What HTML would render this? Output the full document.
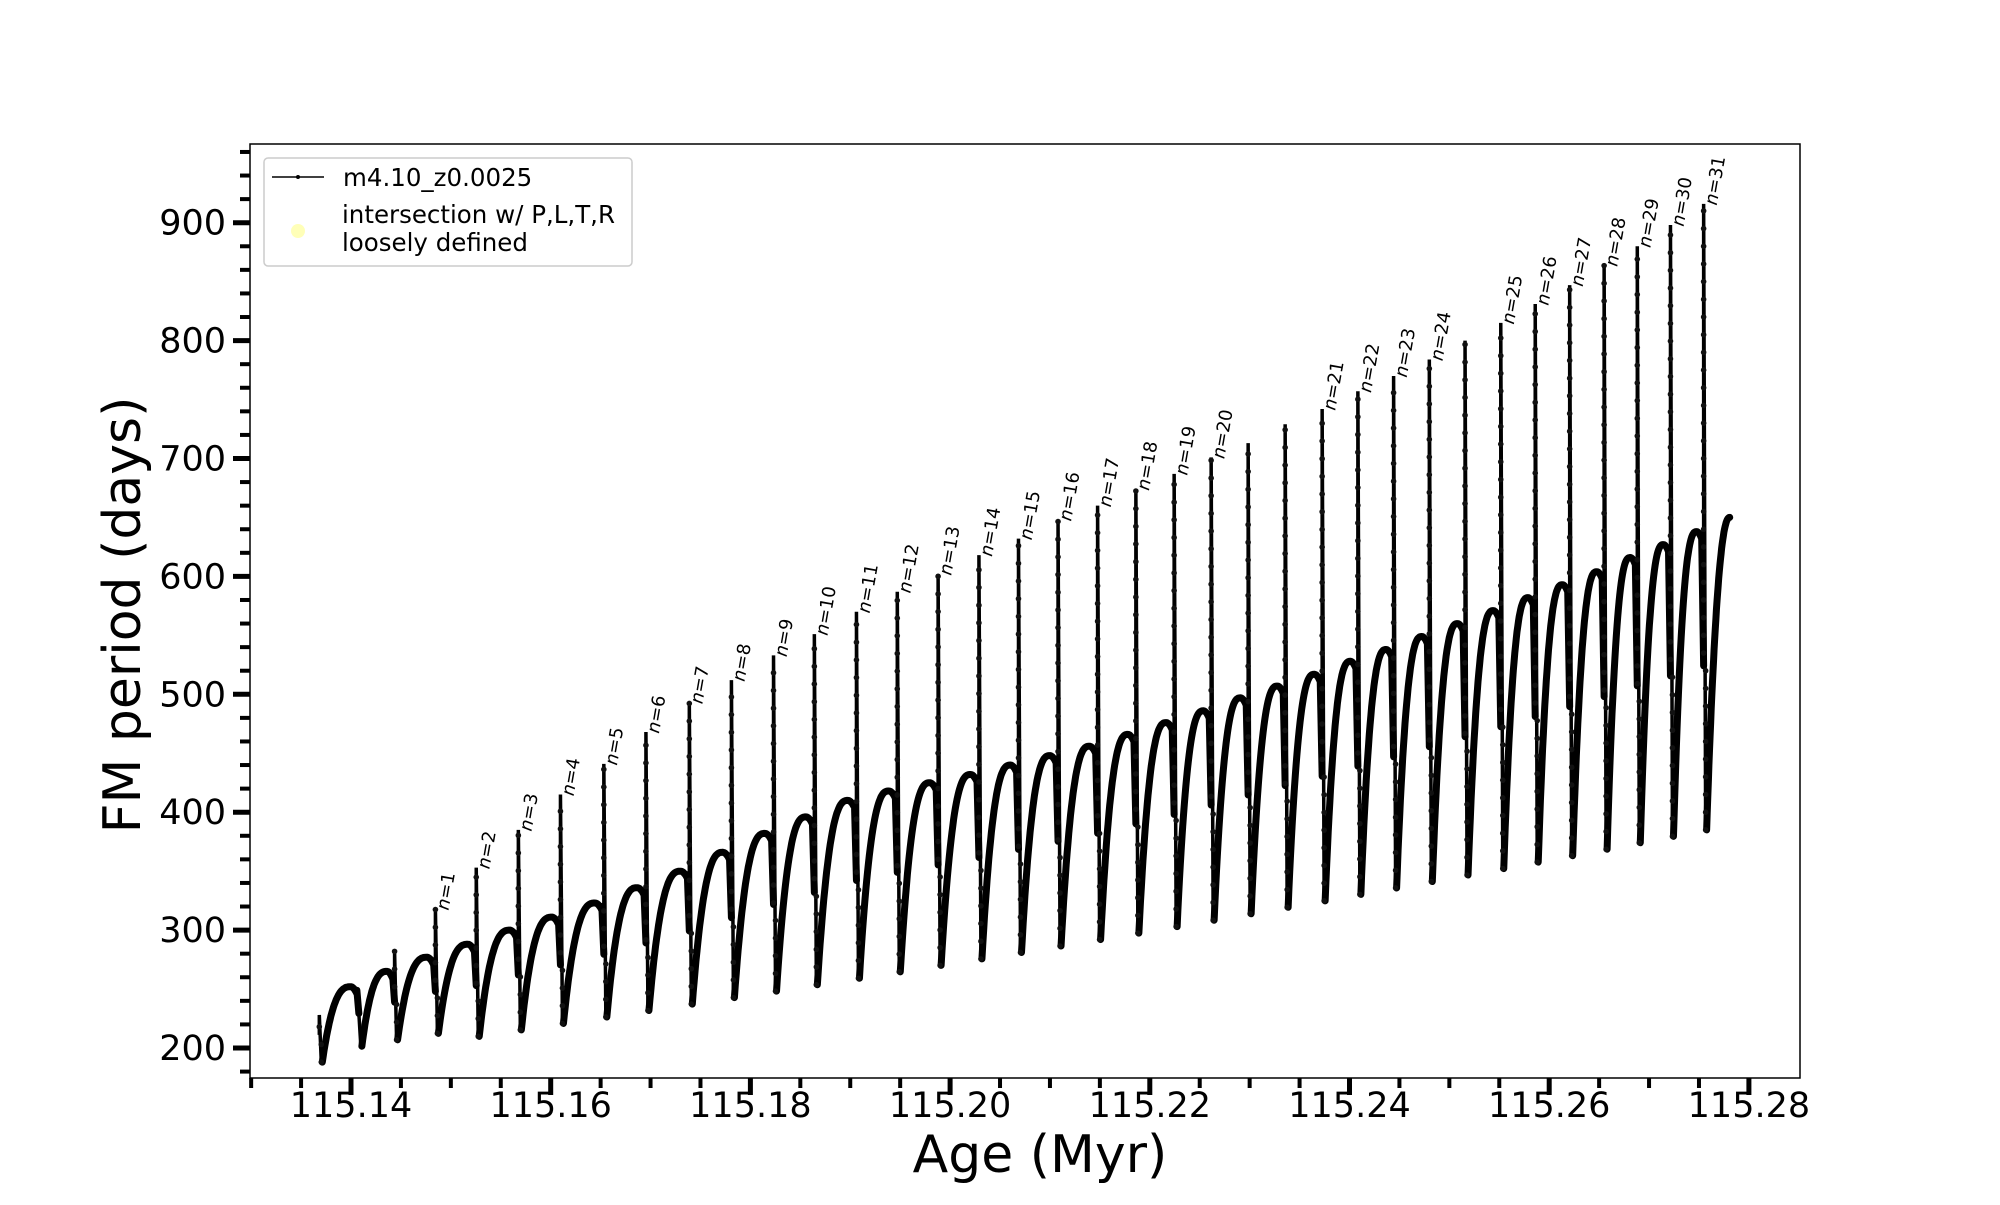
<!DOCTYPE html>
<html><head><meta charset="utf-8"><style>
html,body{margin:0;padding:0;background:#fff;}
svg text{font-family:"DejaVu Sans","Liberation Sans",sans-serif;}
</style></head><body>
<svg id="s" width="2000" height="1200" viewBox="0 0 2000 1200" xmlns="http://www.w3.org/2000/svg">
<rect width="2000" height="1200" fill="#fff"/>
<g id="plot"></g>
<rect x="250" y="144" width="1550" height="934" fill="none" stroke="#000" stroke-width="1.5"/>
<g id="ticks"></g>
<text x="1040" y="1172" font-size="52" text-anchor="middle">Age (Myr)</text>
<text transform="translate(140,615) rotate(-90)" font-size="52" text-anchor="middle">FM period (days)</text>
<g>
<rect x="264" y="158" width="368" height="108" rx="4" fill="#fff" fill-opacity="0.8" stroke="#ccc" stroke-width="1.5"/>
<line x1="272" y1="177" x2="324" y2="177" stroke="#000" stroke-width="1.5"/>
<circle cx="298" cy="177" r="2" fill="#000"/>
<text x="343" y="186" font-size="24.5">m4.10_z0.0025</text>
<circle cx="298" cy="231" r="7" fill="#ffffb8"/>
<text x="342" y="223" font-size="24.5">intersection w/ P,L,T,R</text>
<text x="342" y="251" font-size="24.5">loosely defined</text>
</g>
</svg>
<script>
(function(){
var NS="http://www.w3.org/2000/svg";
function el(p,t,a,txt){var e=document.createElementNS(NS,t);for(var k in a)e.setAttribute(k,a[k]);if(txt!==undefined)e.textContent=txt;p.appendChild(e);return e;}
var tk=document.getElementById('ticks'),pl=document.getElementById('plot');
function X(v){return 351+(v-115.14)*9985;}
function Y(v){return 1048-(v-200)*1.179;}
for(var i=0;i<=30;i++){var v=115.13+i*0.005;var x=X(v);if(x<248||x>1802)continue;
 var maj=(i%4==2);
 el(tk,'line',{x1:x,y1:1078,x2:x,y2:1078+(maj?17:10),stroke:'#000','stroke-width':maj?5:4});
 if(maj)el(tk,'text',{x:x,y:1117,'font-size':35,'text-anchor':'middle'},v.toFixed(2));}
for(var v=180;v<=960;v+=20){var y=Y(v);if(y<144||y>1078)continue;var maj=(v%100==0);
 el(tk,'line',{x1:250,y1:y,x2:250-(maj?17:10),y2:y,stroke:'#000','stroke-width':maj?5:4});
 if(maj)el(tk,'text',{x:226,y:y+12,'font-size':35,'text-anchor':'end'},v);}
var dx=[250,281,309,341,373,406,439,473,506,540,573,606,638,671,703,735,767,798,829,860,890,920,949,978,1007,1036,1064,1092,1120,1148,1176,1203,1230,1257,1283,1309,1335];
var tops=[228,0,282,318,353,385,415,441,468,493,512,533,551,570,587,602,618,632,648,660,674,687,701,713,729,742,757,770,784,800,815,831,847,864,880,898,916];
var plats=[252,265,277,288,300,311,323,336,350,366,382,396,410,418,425,432,440,448,456,466,476,486,497,507,517,528,538,549,560,571,582,593,604,616,627,638,650];
function RX(d){d=d-7*(1335-d)/1085;return 351+(d-268)*1.2677;}
var xs=dx.map(RX);xs.push(RX(1357));
var n=dx.length;
var thick="",thin="",dots=[];
for(var i=0;i<n;i++){
 var mn=188+(385-188)*(i/(n-1));
 if(i>0&&i<4)mn+=8;
 var x0=xs[i],x1=xs[i+1],pv=plats[i];
 var prevPlat=i>0?plats[i-1]:230;
 var mid=prevPlat-0.45*(prevPlat-mn);
 if(i>0){thick+="M"+(x0-2)+","+Y(prevPlat-3)+"L"+x0+","+Y(mid)+" ";}
 var tp=tops[i];
 if(tp>0){thin+="M"+x0+","+Y(mid)+"L"+x0+","+Y(tp)+"L"+(x0+2)+","+Y(mn)+" ";
  for(var v=mn;v<tp;v+=15){dots.push([x0+(v<mid?2:0),Y(v)]);}}
 else{thin+="M"+x0+","+Y(mid)+"L"+(x0+2)+","+Y(mn)+" ";}
 var w=x1-x0-3,last=(i==n-1);
 var d="M"+(x0+3)+","+Y(mn);
 for(var k=1;k<=40;k++){var t=k/40;var x=x0+3+(w-2)*t;var val;
  if(last){val=mn+(pv-mn)*(1-Math.pow(1-t,2.2));}
  else{var u=Math.min(t/0.82,1);val=mn+(pv-mn)*(1-Math.pow(1-u,2.6));if(t>0.82)val-=6*Math.pow((t-0.82)/0.18,2);}
  d+="L"+x.toFixed(1)+","+Y(val).toFixed(1);}
 thick+=d+" ";
}
var labs={341:1,373:2,406:3,439:4,473:5,506:6,540:7,573:8,606:9,638:10,671:11,703:12,735:13,767:14,798:15,829:16,860:17,890:18,920:19,949:20,1036:21,1064:22,1092:23,1120:24,1176:25,1203:26,1230:27,1257:28,1283:29,1309:30,1335:31};
el(pl,'path',{d:thick,fill:'none',stroke:'#000','stroke-width':7,'stroke-linejoin':'round','stroke-linecap':'round'});
el(pl,'path',{d:thin,fill:'none',stroke:'#000','stroke-width':3.5});
dots.forEach(function(p){el(pl,'circle',{cx:p[0],cy:p[1],r:2.8,fill:'#111'});});
for(var i=0;i<n;i++){var L=labs[dx[i]];if(!L)continue;var x=xs[i],y=Y(tops[i]);
 var g=el(pl,'text',{transform:'translate('+(x+13)+','+(y+2)+') rotate(-80)','font-size':18},'');
 el(g,'tspan',{'font-style':'italic'},'n');el(g,'tspan',{},'='+L);}
})();
</script>
</body></html>
